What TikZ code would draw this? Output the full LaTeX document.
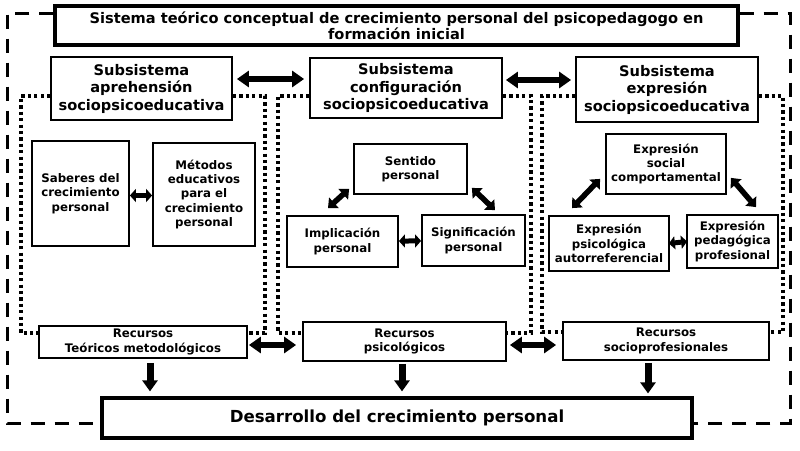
\documentclass[tikz,border=0pt]{standalone}
\usepackage{fontspec}
\setmainfont{DejaVu Sans}
\usetikzlibrary{arrows.meta}
\begin{document}
\begin{tikzpicture}[x=1pt,y=-1pt,
  box/.style={draw, line width=1.8pt, fill=white, align=center, inner sep=0pt,
    font=\bfseries\fontsize{11.8}{14.3}\selectfont},
  bigbox/.style={box, line width=3.2pt},
  subbox/.style={box, font=\bfseries\fontsize{14.6}{17.5}\selectfont},
  dots/.style={line width=3.2pt, dash pattern=on 3.2pt off 3.2pt},
  dashes/.style={line width=3pt, dash pattern=on 14pt off 10pt},
  dbl/.style={line width=5.5pt, {Triangle[length=8pt,width=14pt]}-{Triangle[length=8pt,width=14pt]}},
  shortdbl/.style={line width=5pt, {Triangle[length=6pt,width=13pt]}-{Triangle[length=6pt,width=13pt]}},
  bigdbl/.style={line width=6pt, {Triangle[length=12pt,width=16pt]}-{Triangle[length=12pt,width=16pt]}},
  down/.style={line width=7pt, -{Triangle[length=11pt,width=15pt]}}]
\fill[white] (0,0) rectangle (800,450);
\useasboundingbox (0,0) rectangle (800,450);

% main boxes
\node[bigbox, minimum width=683, minimum height=39, font=\bfseries\fontsize{14.6}{16}\selectfont] (title) at (396.5,25.5)
  {Sistema teórico conceptual de crecimiento personal del psicopedagogo en\\formación inicial};
\node[bigbox, minimum width=590, minimum height=40, font=\bfseries\fontsize{16.6}{19}\selectfont] (des) at (397,418)
  {Desarrollo del crecimiento personal};

% outer dashed frame
\draw[dashes] (title.west |- 0,13) -- (7,13) -- (7,423) -- (des.west |- 0,423);
\draw[dashes] (title.east |- 0,13) -- (790,13) -- (790,423) -- (des.east |- 0,423);

% subsystems
\node[subbox, minimum width=181, minimum height=63] (subA) at (141.5,88.5)
  {Subsistema\\aprehensión\\sociopsicoeducativa};
\node[subbox, minimum width=192, minimum height=60] (subC) at (406,88)
  {Subsistema\\configuración\\sociopsicoeducativa};
\node[subbox, minimum width=182, minimum height=65] (subE) at (667,89.5)
  {Subsistema\\expresión\\sociopsicoeducativa};

% resources
\node[box, minimum width=208, minimum height=32] (recT) at (143,342)
  {Recursos\\Teóricos metodológicos};
\node[box, minimum width=203, minimum height=39] (recP) at (404.5,341.5)
  {Recursos\\psicológicos};
\node[box, minimum width=206, minimum height=38] (recS) at (666,341)
  {Recursos\\socioprofesionales};

% dotted regions
\draw[dots] (subA.west |- 0,96) -- (21,96) -- (21,333) -- (recT.west |- 0,333);
\draw[dots] (subA.east |- 0,96) -- (265,96) -- (265,333) -- (recT.east |- 0,333);
\draw[dots] (subC.west |- 0,96) -- (278,96) -- (278,333) -- (recP.west |- 0,333);
\draw[dots] (subC.east |- 0,96) -- (531,96) -- (531,333) -- (recP.east |- 0,333);
\draw[dots] (subE.west |- 0,96) -- (542,96) -- (542,332) -- (recS.west |- 0,332);
\draw[dots] (subE.east |- 0,96) -- (783,96) -- (783,332) -- (recS.east |- 0,332);

% inner boxes
\node[box, minimum width=97, minimum height=105] (sab) at (80.5,193.5)
  {Saberes del\\crecimiento\\personal};
\node[box, minimum width=102, minimum height=103] (met) at (204,194.5)
  {Métodos\\educativos\\para el\\crecimiento\\personal};
\node[box, minimum width=113, minimum height=50] (sen) at (410.5,169)
  {Sentido\\personal};
\node[box, minimum width=111, minimum height=51] (imp) at (342.5,241.5)
  {Implicación\\personal};
\node[box, minimum width=103, minimum height=51] (sig) at (473.5,240.5)
  {Significación\\personal};
\node[box, minimum width=120, minimum height=60] (exs) at (666,164)
  {Expresión\\social\\comportamental};
\node[box, minimum width=120, minimum height=55] (exp) at (609,243.5)
  {Expresión\\psicológica\\autorreferencial};
\node[box, minimum width=91, minimum height=53] (exd) at (732.5,241.5)
  {Expresión\\pedagógica\\profesional};

% arrows between subsystems
\draw[bigdbl] ([xshift=4pt,yshift=9.5pt]subA.east) -- ([xshift=-5pt,yshift=9pt]subC.west);
\draw[bigdbl] ([xshift=3pt,yshift=8pt]subC.east) -- ([xshift=-4pt,yshift=9.5pt]subE.west);

% inner arrows
\draw[shortdbl] ([yshift=-2pt]sab.east) -- ([yshift=-1pt]met.west);
\draw[shortdbl] (imp) -- (sig);
\draw[shortdbl] ([xshift=-1pt]exp.east) -- ([xshift=1pt]exd.west);
\draw[dbl] ([xshift=-4pt,yshift=6pt]sen.south west) -- ([xshift=-14.5pt,yshift=7pt]imp.north);
\draw[dbl] ([xshift=4pt,yshift=7pt]sen.south east) -- ([xshift=21.5pt,yshift=4pt]sig.north);
\draw[dbl] ([xshift=-5pt,yshift=16pt]exs.south west) -- ([xshift=-37pt,yshift=7pt]exp.north);
\draw[dbl] ([xshift=4pt,yshift=17pt]exs.south east) -- ([xshift=23.5pt,yshift=7pt]exd.north);

% resource arrows
\draw[bigdbl] ([xshift=1pt,yshift=-3pt]recT.east) -- ([xshift=-6pt,yshift=-3.5pt]recP.west);
\draw[bigdbl] ([xshift=3pt,yshift=-3.5pt]recP.east) -- ([xshift=-6pt,yshift=-4pt]recS.west);

% down arrows
\path ([xshift=7pt,yshift=-4pt]recT.south) coordinate (d1);
\path ([xshift=-2.5pt,yshift=-2pt]recP.south) coordinate (d2);
\path ([xshift=-18pt,yshift=-2pt]recS.south) coordinate (d3);
\draw[down] (d1) -- ([yshift=5pt]d1 |- des.north);
\draw[down] (d2) -- ([yshift=5pt]d2 |- des.north);
\draw[down] (d3) -- ([yshift=3pt]d3 |- des.north);
\end{tikzpicture}
\end{document}
